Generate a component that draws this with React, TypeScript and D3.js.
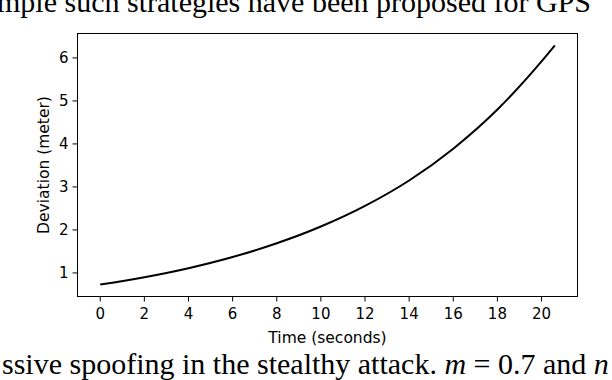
import React from "react";
import * as d3 from "d3";

// deviation, every 2 s plus the final sample
const times = [0, 2, 4, 6, 8, 10, 12, 14, 16, 18, 20, 20.6];
const deviation = [0.73, 0.9, 1.11, 1.37, 1.69, 2.08, 2.56, 3.15, 3.89, 4.8, 5.92, 6.29];
const xTicks = [0, 2, 4, 6, 8, 10, 12, 14, 16, 18, 20];
const yTicks = [1, 2, 3, 4, 5, 6];

const topLine = "mple such strategies have been proposed for GPS";

const W = 612;
const H = 380;
const box = { left: 77.5, right: 577.5, top: 33.5, bottom: 296.5 };
const tickFont = "DejaVu Sans, sans-serif";
const serif = "Liberation Serif, Times New Roman, serif";

const App = () => {
  const xPad = (20.6 - 0) * 0.05;
  const yPad = (6.29 - 0.73) * 0.05;
  const x = d3.scaleLinear().domain([0 - xPad, 20.6 + xPad]).range([box.left, box.right]);
  const y = d3.scaleLinear().domain([0.73 - yPad, 6.29 + yPad]).range([box.bottom, box.top]);

  const line = d3
    .line<number>()
    .x((_, i) => x(times[i]))
    .y((d) => y(d))
    .curve(d3.curveMonotoneX);

  return (
    <svg width={W} height={H} style={{ position: "absolute", left: 0, top: 0, background: "#fff" }}>
      <text x={-3} y={12} fontFamily={serif} fontSize={30} fill="#000">
        {topLine}
      </text>

      <path d={line(deviation) || ""} fill="none" stroke="#000" strokeWidth={2} />

      <rect
        x={box.left}
        y={box.top}
        width={box.right - box.left}
        height={box.bottom - box.top}
        fill="none"
        stroke="#000"
        strokeWidth={1}
      />

      {xTicks.map((t) => (
        <g key={`x${t}`} transform={`translate(${x(t)},${box.bottom})`}>
          <line y2={5} stroke="#000" strokeWidth={1} />
          <text y={22} textAnchor="middle" fontFamily={tickFont} fontSize={15} fill="#000">
            {t}
          </text>
        </g>
      ))}
      {yTicks.map((t) => (
        <g key={`y${t}`} transform={`translate(${box.left},${y(t)})`}>
          <line x2={-5} stroke="#000" strokeWidth={1} />
          <text x={-9} dy="0.36em" textAnchor="end" fontFamily={tickFont} fontSize={15} fill="#000">
            {t}
          </text>
        </g>
      ))}

      <text
        x={(box.left + box.right) / 2}
        y={342.5}
        textAnchor="middle"
        fontFamily={tickFont}
        fontSize={15.5}
        fill="#000"
      >
        Time (seconds)
      </text>
      <text
        transform={`translate(49,${(box.top + box.bottom) / 2}) rotate(-90)`}
        textAnchor="middle"
        fontFamily={tickFont}
        fontSize={15.5}
        fill="#000"
      >
        Deviation (meter)
      </text>

      <text x={2} y={374} fontFamily={serif} fontSize={30} fill="#000">
        ssive spoofing in the stealthy attack. <tspan fontStyle="italic">m</tspan> = 0.7 and{" "}
        <tspan fontStyle="italic">n</tspan>
      </text>
    </svg>
  );
};

export default App;
